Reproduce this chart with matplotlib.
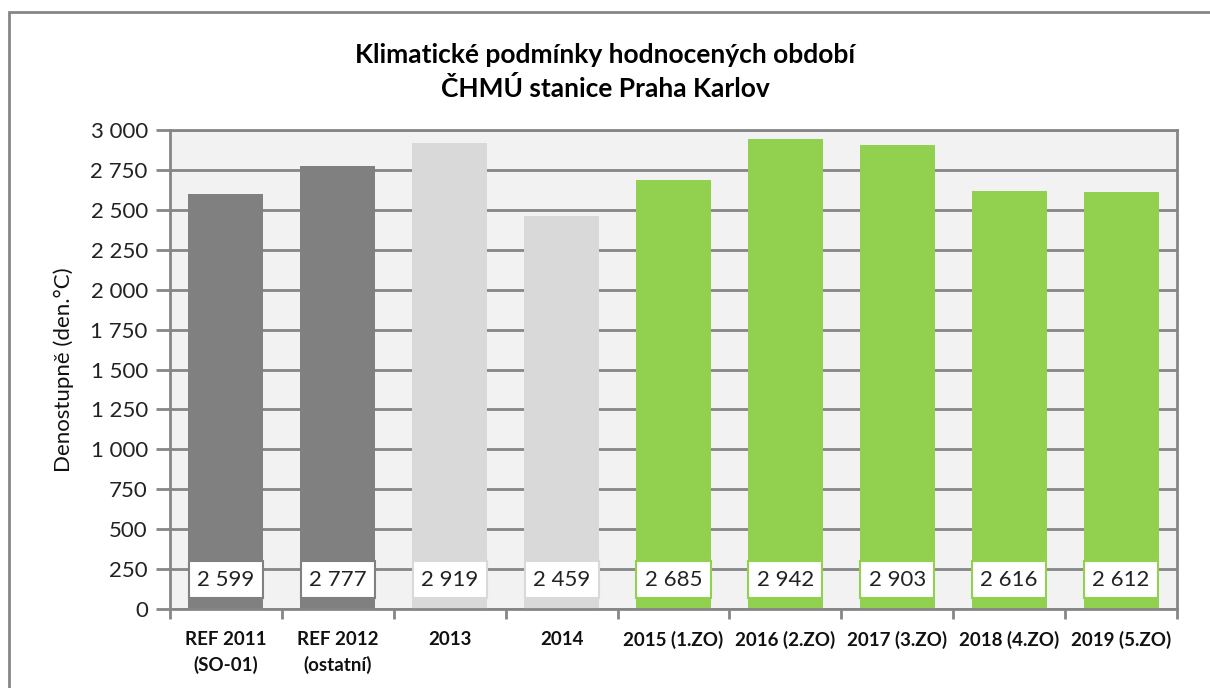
import matplotlib.pyplot as plt
from matplotlib.patches import Rectangle
from matplotlib.ticker import FuncFormatter, MultipleLocator

categories = ["REF 2011\n(SO-01)", "REF 2012\n(ostatní)", "2013", "2014",
              "2015 (1.ZO)", "2016 (2.ZO)", "2017 (3.ZO)", "2018 (4.ZO)", "2019 (5.ZO)"]
values = [2599, 2777, 2919, 2459, 2685, 2942, 2903, 2616, 2612]
colors = ["#808080", "#808080", "#D9D9D9", "#D9D9D9",
          "#92D050", "#92D050", "#92D050", "#92D050", "#92D050"]

plt.rcParams['font.family'] = ['Lato', 'DejaVu Sans']

fig = plt.figure(figsize=(12.1, 6.88), dpi=100)
ax = fig.add_axes([170 / 1210, 79 / 688, 1007 / 1210, 479 / 688])

def fmt(v, pos=None):
    return f"{int(v):,}".replace(",", " ")

x = range(len(values))
ax.set_facecolor("#F2F2F2")
ax.set_axisbelow(True)
ax.grid(axis="y", color="#868686", linewidth=2)
bars = ax.bar(x, values, width=0.67, color=colors, zorder=2)

for xi, v, c in zip(x, values, colors):
    ax.text(xi, 182, fmt(v), ha="center", va="center", fontsize=16, color="#222222",
            zorder=3, bbox=dict(boxstyle="square,pad=0.38", fc="white", ec=c, lw=1.5))

ax.set_xlim(-0.5, len(values) - 0.5)
ax.set_ylim(0, 3000)
ax.yaxis.set_major_locator(MultipleLocator(250))
ax.yaxis.set_major_formatter(FuncFormatter(fmt))
ax.set_xticks(x)
ax.set_xticklabels(categories, fontsize=13.5, fontweight="bold", color="#111111", linespacing=1.5)
ax.tick_params(axis="x", length=0, pad=16)
ax.set_xticks([i + 0.5 for i in range(-1, len(values))], minor=True)
ax.tick_params(axis="x", which="minor", length=7, width=2, color="#868686")
ax.tick_params(axis="y", length=10, width=2, color="#868686", labelsize=16, labelcolor="#222222", pad=6)

for s in ax.spines.values():
    s.set_color("#868686")
    s.set_linewidth(2)

ax.set_ylabel("Denostupně (den.°C)", fontsize=16, color="#111111", labelpad=12)
fig.text(0.5, 0.895, "Klimatické podmínky hodnocených období\nČHMÚ stanice Praha Karlov",
         ha="center", va="center", fontsize=19, fontweight="bold", linespacing=1.45)

fig.patches.append(Rectangle((9 / 1210, -0.05), 1.1, (688 - 12) / 688 + 0.05,
                             transform=fig.transFigure, fill=False, ec="#868686", lw=2))

fig.savefig("out.png", dpi=100)
